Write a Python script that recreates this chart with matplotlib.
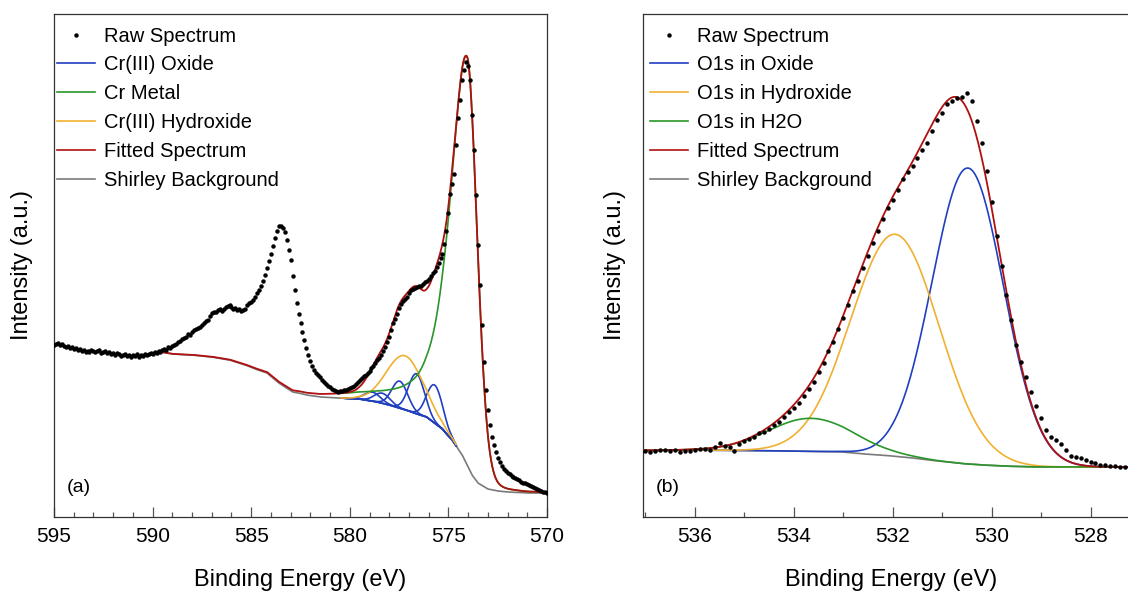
import numpy as np
import matplotlib
matplotlib.use("Agg")
import matplotlib.pyplot as plt
from matplotlib.lines import Line2D
from matplotlib.ticker import MultipleLocator

plt.rcParams["font.family"] = ["Liberation Sans", "DejaVu Sans"]

# ---------------- (a) Cr 2p ----------------
# raw spectrum, 0.1 eV steps from 595.0 eV down to 570.0 eV
cr_energy = np.round(np.arange(595.0, 569.95, -0.1), 1)
cr_raw = [
    172, 173, 174, 172, 173, 171, 170, 171, 169, 170,
    168, 169, 167, 168, 166, 167, 165, 166, 165, 167,
    166, 165, 166, 167, 164, 165, 166, 164, 165, 163,
    164, 162, 164, 163, 161, 162, 163, 161, 162, 160,
    162, 161, 163, 160, 162, 161, 163, 162, 163, 164,
    163, 165, 164, 166, 165, 167, 168, 167, 170, 169,
    171, 172, 173, 175, 176, 178, 179, 180, 183, 182,
    185, 187, 188, 189, 190, 192, 194, 196, 197, 201,
    204, 205, 205, 207, 208, 206, 208, 210, 211, 212,
    210, 208, 209, 207, 208, 206, 207, 208, 212, 214,
    215, 217, 220, 224, 227, 231, 236, 242, 249, 256,
    263, 271, 279, 286, 291, 291, 289, 285, 277, 267,
    257, 241, 227, 214, 203, 194, 185, 177, 169, 162,
    156, 151, 147, 144, 142, 140, 137, 135, 133, 131,
    130, 128, 127, 126, 125, 126, 126, 127, 127, 128,
    129, 130, 131, 133, 135, 137, 139, 141, 142, 144,
    146, 149, 151, 154, 157, 159, 162, 166, 170, 175,
    180, 187, 194, 198, 203, 209, 213, 216, 218, 220,
    224, 227, 228, 229, 230, 231, 231, 233, 235, 236,
    238, 241, 244, 246, 250, 254, 259, 263, 273, 286,
    304, 323, 333, 343, 372, 399, 417, 437, 447, 455,
    451, 437, 402, 367, 322, 272, 232, 192, 155, 127,
    107, 92, 80, 72, 65, 59, 55, 51, 48, 46,
    44, 43, 41, 40, 39, 38, 37, 35, 34, 34,
    33, 32, 31, 30, 29, 28, 27, 26, 25, 25,
    24,
]
# Shirley background below the fit window (above 589.6 eV it follows the raw data)
cr_bg_energy = [589.6, 589.0, 588.0, 587.0, 586.1, 585.3, 584.8, 584.2, 583.9,
                583.6, 583.2, 582.9, 582.6, 582.2, 581.5, 580.5, 579.5, 578.6,
                578.0, 577.5, 577.0, 576.6, 576.1, 575.7, 575.3, 575.0, 574.8,
                574.6, 574.3, 574.1, 573.8, 573.5, 573.0, 572.5, 572.0, 571.0,
                570.0]
cr_bg = [165, 163, 162, 160, 157, 152, 148, 144, 139,
         134, 129, 125, 124, 122, 120, 119, 118, 115,
         112, 109, 106, 103, 100, 94, 88, 81, 77,
         71, 62, 54, 42, 34, 28, 26, 25, 24,
         24]
# fitted components (centre eV, height, half width eV)
cr_oxide_centre = [575.69, 576.62, 577.47, 578.35, 578.85]
cr_oxide_height = [38, 40, 27, 10, 9]
cr_oxide_hwhm = 0.47
cr_hydroxide = (577.2, 54, 1.1)
cr_metal = (574.05, 408)
cr_metal_hwhm = (1.02, 0.6)      # high-BE side, low-BE side

# ---------------- (b) O 1s ----------------
o_energy = np.round(np.arange(537.2, 527.15, -0.1), 1)
o_raw = [
    65, 66, 66, 65, 66, 67, 67, 66, 67, 65,
    66, 66, 67, 68, 68, 67, 70, 74, 71, 70,
    66, 73, 76, 78, 80, 84, 85, 88, 92, 95,
    100, 105, 109, 114, 121, 128, 135, 145, 154, 166,
    175, 188, 199, 212, 226, 236, 249, 261, 274, 286,
    298, 309, 317, 327, 338, 345, 351, 359, 367, 374,
    386, 397, 404, 413, 416, 419, 420, 424, 416, 396,
    374, 346, 315, 281, 251, 222, 197, 172, 155, 140,
    125, 111, 99, 87, 80, 77, 73, 67, 61, 60,
    59, 57, 55, 54, 52, 52, 51, 51, 50, 50,
    50,
]
o_bg_energy = [537.2, 536.0, 535.0, 534.0, 533.0, 532.45, 532.0, 531.5, 531.1,
               530.5, 530.0, 529.5, 529.0, 528.0, 527.0]
o_bg = [66.5, 67, 66.5, 66, 65, 62.5, 61, 58.5, 56,
        53, 51.5, 50.5, 50, 50, 50]
o_oxide = (530.48, 296, 0.85)
o_hydroxide = (531.95, 222, 1.05)
o_water = (533.65, 33, 1.02)

C_OXIDE = "#2040c0"
C_METAL = "#2a962a"
C_HYDROX = "#f0b030"
C_WATER = "#2a962a"
C_FIT = "#b01010"
C_BG = "#7a7a7a"


def gl(e, centre, height, hwhm, gfrac=1.0):
    d = (e - centre) / hwhm
    return height * (gfrac * np.exp(-np.log(2) * d * d) + (1 - gfrac) / (1 + d * d))


def metal_peak(e):
    c, h = cr_metal
    hi = gl(e, c, h, cr_metal_hwhm[0], 0.3) * np.exp(-((e - c) / 10.0) ** 2)
    lo = gl(e, c, h, cr_metal_hwhm[1], 0.9)
    return np.where(e > c, hi, lo)


def style_axes(ax, major, minor, ypad):
    for s in ax.spines.values():
        s.set_color("#333333")
        s.set_linewidth(0.9)
    ax.xaxis.set_major_locator(MultipleLocator(major))
    ax.xaxis.set_minor_locator(MultipleLocator(minor))
    ax.tick_params(axis="x", which="both", direction="in", top=False,
                   color="#555555", width=0.9, labelsize=15, pad=7)
    ax.tick_params(axis="x", which="major", length=7)
    ax.tick_params(axis="x", which="minor", length=3.5)
    ax.tick_params(axis="y", left=False, labelleft=False)
    ax.set_xlabel("Binding Energy (eV)", fontsize=17, labelpad=17)
    ax.set_ylabel("Intensity (a.u.)", fontsize=17, labelpad=ypad)


def add_legend(ax, labels, colors, x0):
    handles = [Line2D([], [], ls="none", marker="o", ms=2.2, color="black")]
    handles += [Line2D([], [], color=c, lw=1.2) for c in colors]
    ax.legend(handles, labels, loc="upper left", bbox_to_anchor=(x0, 0.975),
              frameon=False, fontsize=14.5, handlelength=1.9,
              handletextpad=0.45, labelspacing=0.49, borderpad=0,
              borderaxespad=0)


fig = plt.figure(figsize=(11.28, 5.94), dpi=100)
ax_a = fig.add_axes([54 / 1128, 77 / 594, 493 / 1128, 503 / 594])
ax_b = fig.add_axes([643 / 1128, 77 / 594, 497 / 1128, 503 / 594])

# ---- panel a ----
e_fit = np.linspace(570.0, 589.6, 2000)
bg_fit = np.interp(e_fit, cr_bg_energy[::-1], cr_bg[::-1])
oxide_parts = [gl(e_fit, c, h, cr_oxide_hwhm) for c, h in zip(cr_oxide_centre, cr_oxide_height)]
hydrox = gl(e_fit, *cr_hydroxide)
metal = metal_peak(e_fit)
fit_a = bg_fit + metal + hydrox + np.sum(oxide_parts, axis=0)

left = cr_energy >= 589.6
raw_a = np.array(cr_raw)
e_line = np.concatenate([cr_energy[left], e_fit[::-1][1:]])
bg_line = np.concatenate([raw_a[left], bg_fit[::-1][1:]])
fit_line = np.concatenate([raw_a[left], fit_a[::-1][1:]])

win = (e_fit >= 574.6) & (e_fit <= 580.5)
ax_a.plot(e_line, bg_line, color=C_BG, lw=1.2, zorder=2)
for part in oxide_parts:
    ax_a.plot(e_fit[win], (bg_fit + part)[win], color=C_OXIDE, lw=1.2, zorder=3)
ax_a.plot(e_fit[win], (bg_fit + hydrox)[win], color=C_HYDROX, lw=1.2, zorder=3)
mwin = e_fit <= 580.5
ax_a.plot(e_fit[mwin], (bg_fit + metal)[mwin], color=C_METAL, lw=1.2, zorder=3)
ax_a.plot(e_line, fit_line, color=C_FIT, lw=1.3, zorder=4)
ax_a.plot(cr_energy, raw_a, ls="none", marker="o", ms=2.2, color="black", zorder=5)

ax_a.set_xlim(595, 570)
ax_a.set_ylim(0, 503)
style_axes(ax_a, 5, 1, 15)
add_legend(ax_a, ["Raw Spectrum", "Cr(III) Oxide", "Cr Metal", "Cr(III) Hydroxide",
                  "Fitted Spectrum", "Shirley Background"],
           [C_OXIDE, C_METAL, C_HYDROX, C_FIT, C_BG], 0.006)
ax_a.text(0.026, 0.058, "(a)", transform=ax_a.transAxes, fontsize=14,
          ha="left", va="center")

# ---- panel b ----
e_b = np.linspace(527.2, 537.2, 1500)
bg_b = np.interp(e_b, o_bg_energy[::-1], o_bg[::-1])
ox_b = gl(e_b, *o_oxide)
hy_b = gl(e_b, *o_hydroxide)
wa_b = gl(e_b, *o_water)
ax_b.plot(e_b, bg_b, color=C_BG, lw=1.2, zorder=2)
ax_b.plot(e_b, bg_b + ox_b, color=C_OXIDE, lw=1.2, zorder=3)
ax_b.plot(e_b, bg_b + hy_b, color=C_HYDROX, lw=1.2, zorder=3)
ax_b.plot(e_b, bg_b + wa_b, color=C_WATER, lw=1.2, zorder=3)
ax_b.plot(e_b, bg_b + ox_b + hy_b + wa_b, color=C_FIT, lw=1.3, zorder=4)
ax_b.plot(o_energy, o_raw, ls="none", marker="o", ms=2.2, color="black", zorder=5)

ax_b.set_xlim(537.05, 527.0)
ax_b.set_ylim(0, 503)
style_axes(ax_b, 2, 1, 12)
add_legend(ax_b, ["Raw Spectrum", "O1s in Oxide", "O1s in Hydroxide", "O1s in H2O",
                  "Fitted Spectrum", "Shirley Background"],
           [C_OXIDE, C_HYDROX, C_WATER, C_FIT, C_BG], 0.014)
ax_b.text(0.026, 0.058, "(b)", transform=ax_b.transAxes, fontsize=14,
          ha="left", va="center")

fig.savefig("out.png", dpi=100)
